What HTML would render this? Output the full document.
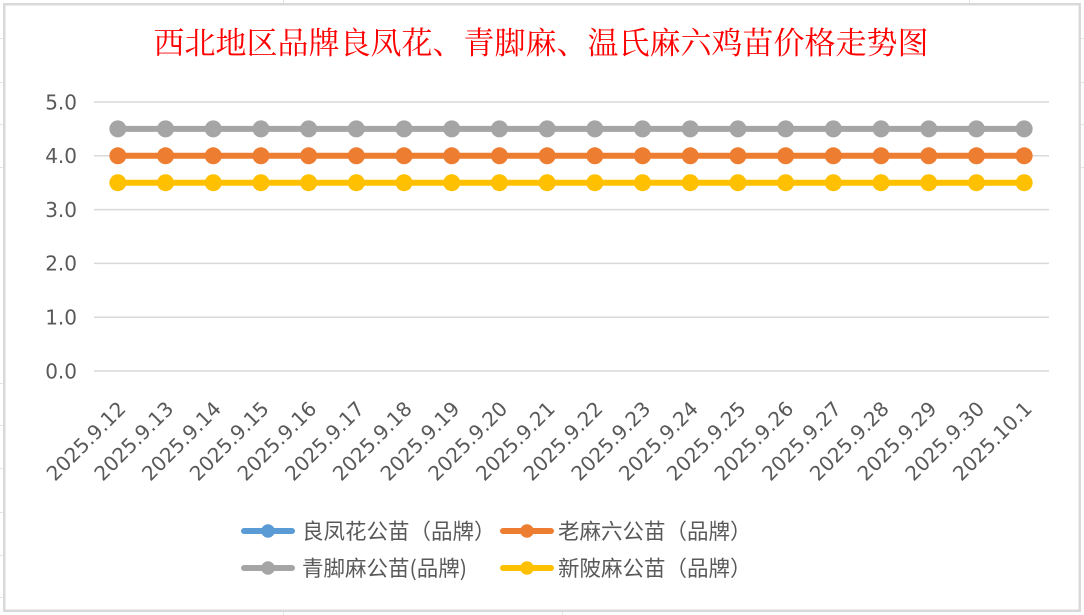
<!DOCTYPE html>
<html><head><meta charset="utf-8"><style>
html,body{margin:0;padding:0;background:#fff;}
svg{display:block;}
</style></head><body>
<svg width="1084" height="615" viewBox="0 0 1084 615" xmlns="http://www.w3.org/2000/svg">
<rect x="0" y="0" width="1084" height="615" fill="#fff"/>
<g stroke="#e3e3e3" stroke-width="1">
<line x1="0" y1="38.5" x2="3" y2="38.5"/><line x1="0" y1="82.5" x2="3" y2="82.5"/><line x1="0" y1="124.5" x2="3" y2="124.5"/><line x1="0" y1="167.5" x2="3" y2="167.5"/>
<line x1="0" y1="383.5" x2="3" y2="383.5"/><line x1="0" y1="425.5" x2="3" y2="425.5"/><line x1="0" y1="468.5" x2="3" y2="468.5"/><line x1="0" y1="512.5" x2="3" y2="512.5"/><line x1="0" y1="555.5" x2="3" y2="555.5"/><line x1="0" y1="597.5" x2="3" y2="597.5"/>
<line x1="1081" y1="38.5" x2="1084" y2="38.5"/><line x1="1081" y1="82.5" x2="1084" y2="82.5"/><line x1="1081" y1="124.5" x2="1084" y2="124.5"/><line x1="1081" y1="167.5" x2="1084" y2="167.5"/>
<line x1="283.5" y1="0" x2="283.5" y2="3"/><line x1="969.5" y1="0" x2="969.5" y2="3"/>
<line x1="283.5" y1="612" x2="283.5" y2="615"/><line x1="562.5" y1="612" x2="562.5" y2="615"/>
</g>
<rect x="4.25" y="4.25" width="1075.5" height="606.5" fill="#fff" stroke="#d9d9d9" stroke-width="2.5"/>
<text x="541" y="54" text-anchor="middle" font-family="'Liberation Serif','Noto Serif CJK SC',serif" font-size="31" fill="#ff0000">西北地区品牌良凤花、青脚麻、温氏麻六鸡苗价格走势图</text>
<g stroke="#d9d9d9" stroke-width="1.5">
<line x1="94" y1="102" x2="1049" y2="102"/>
<line x1="94" y1="155.8" x2="1049" y2="155.8"/>
<line x1="94" y1="209.6" x2="1049" y2="209.6"/>
<line x1="94" y1="263.4" x2="1049" y2="263.4"/>
<line x1="94" y1="317.2" x2="1049" y2="317.2"/>
<line x1="94" y1="371" x2="1049" y2="371"/>
</g>
<g font-family="'DejaVu Sans','Liberation Sans',sans-serif" font-size="20" fill="#595959" text-anchor="end">
<text x="77" y="109.3">5.0</text>
<text x="77" y="163.1">4.0</text>
<text x="77" y="216.9">3.0</text>
<text x="77" y="270.7">2.0</text>
<text x="77" y="324.5">1.0</text>
<text x="77" y="378.3">0.0</text>
</g>
<g id="series">
<line x1="117.85" y1="155.8" x2="1024.15" y2="155.8" stroke="#ed7d31" stroke-width="6"/>
<line x1="117.85" y1="128.9" x2="1024.15" y2="128.9" stroke="#a5a5a5" stroke-width="6"/>
<line x1="117.85" y1="182.7" x2="1024.15" y2="182.7" stroke="#ffc000" stroke-width="6"/>
<g fill="#ed7d31">
<circle cx="117.85" cy="155.8" r="8.5"/><circle cx="165.55" cy="155.8" r="8.5"/><circle cx="213.25" cy="155.8" r="8.5"/><circle cx="260.95" cy="155.8" r="8.5"/><circle cx="308.65" cy="155.8" r="8.5"/><circle cx="356.35" cy="155.8" r="8.5"/><circle cx="404.05" cy="155.8" r="8.5"/><circle cx="451.75" cy="155.8" r="8.5"/><circle cx="499.45" cy="155.8" r="8.5"/><circle cx="547.15" cy="155.8" r="8.5"/><circle cx="594.85" cy="155.8" r="8.5"/><circle cx="642.55" cy="155.8" r="8.5"/><circle cx="690.25" cy="155.8" r="8.5"/><circle cx="737.95" cy="155.8" r="8.5"/><circle cx="785.65" cy="155.8" r="8.5"/><circle cx="833.35" cy="155.8" r="8.5"/><circle cx="881.05" cy="155.8" r="8.5"/><circle cx="928.75" cy="155.8" r="8.5"/><circle cx="976.45" cy="155.8" r="8.5"/><circle cx="1024.15" cy="155.8" r="8.5"/>
</g>
<g fill="#a5a5a5">
<circle cx="117.85" cy="128.9" r="8.5"/><circle cx="165.55" cy="128.9" r="8.5"/><circle cx="213.25" cy="128.9" r="8.5"/><circle cx="260.95" cy="128.9" r="8.5"/><circle cx="308.65" cy="128.9" r="8.5"/><circle cx="356.35" cy="128.9" r="8.5"/><circle cx="404.05" cy="128.9" r="8.5"/><circle cx="451.75" cy="128.9" r="8.5"/><circle cx="499.45" cy="128.9" r="8.5"/><circle cx="547.15" cy="128.9" r="8.5"/><circle cx="594.85" cy="128.9" r="8.5"/><circle cx="642.55" cy="128.9" r="8.5"/><circle cx="690.25" cy="128.9" r="8.5"/><circle cx="737.95" cy="128.9" r="8.5"/><circle cx="785.65" cy="128.9" r="8.5"/><circle cx="833.35" cy="128.9" r="8.5"/><circle cx="881.05" cy="128.9" r="8.5"/><circle cx="928.75" cy="128.9" r="8.5"/><circle cx="976.45" cy="128.9" r="8.5"/><circle cx="1024.15" cy="128.9" r="8.5"/>
</g>
<g fill="#ffc000">
<circle cx="117.85" cy="182.7" r="8.5"/><circle cx="165.55" cy="182.7" r="8.5"/><circle cx="213.25" cy="182.7" r="8.5"/><circle cx="260.95" cy="182.7" r="8.5"/><circle cx="308.65" cy="182.7" r="8.5"/><circle cx="356.35" cy="182.7" r="8.5"/><circle cx="404.05" cy="182.7" r="8.5"/><circle cx="451.75" cy="182.7" r="8.5"/><circle cx="499.45" cy="182.7" r="8.5"/><circle cx="547.15" cy="182.7" r="8.5"/><circle cx="594.85" cy="182.7" r="8.5"/><circle cx="642.55" cy="182.7" r="8.5"/><circle cx="690.25" cy="182.7" r="8.5"/><circle cx="737.95" cy="182.7" r="8.5"/><circle cx="785.65" cy="182.7" r="8.5"/><circle cx="833.35" cy="182.7" r="8.5"/><circle cx="881.05" cy="182.7" r="8.5"/><circle cx="928.75" cy="182.7" r="8.5"/><circle cx="976.45" cy="182.7" r="8.5"/><circle cx="1024.15" cy="182.7" r="8.5"/>
</g>
</g>
<g font-family="'DejaVu Sans','Liberation Sans',sans-serif" font-size="20" fill="#595959" text-anchor="end">
<text transform="translate(127,410) rotate(-45)">2025.9.12</text>
<text transform="translate(174.7,410) rotate(-45)">2025.9.13</text>
<text transform="translate(222.4,410) rotate(-45)">2025.9.14</text>
<text transform="translate(270.1,410) rotate(-45)">2025.9.15</text>
<text transform="translate(317.8,410) rotate(-45)">2025.9.16</text>
<text transform="translate(365.5,410) rotate(-45)">2025.9.17</text>
<text transform="translate(413.2,410) rotate(-45)">2025.9.18</text>
<text transform="translate(460.9,410) rotate(-45)">2025.9.19</text>
<text transform="translate(508.6,410) rotate(-45)">2025.9.20</text>
<text transform="translate(556.3,410) rotate(-45)">2025.9.21</text>
<text transform="translate(604,410) rotate(-45)">2025.9.22</text>
<text transform="translate(651.7,410) rotate(-45)">2025.9.23</text>
<text transform="translate(699.4,410) rotate(-45)">2025.9.24</text>
<text transform="translate(747.1,410) rotate(-45)">2025.9.25</text>
<text transform="translate(794.8,410) rotate(-45)">2025.9.26</text>
<text transform="translate(842.5,410) rotate(-45)">2025.9.27</text>
<text transform="translate(890.2,410) rotate(-45)">2025.9.28</text>
<text transform="translate(937.9,410) rotate(-45)">2025.9.29</text>
<text transform="translate(985.6,410) rotate(-45)">2025.9.30</text>
<text transform="translate(1033.3,410) rotate(-45)">2025.10.1</text>
</g>
<g>
<line x1="244" y1="531" x2="292" y2="531" stroke="#5b9bd5" stroke-width="6" stroke-linecap="round"/>
<circle cx="268" cy="531" r="6.8" fill="#5b9bd5"/>
<line x1="503" y1="531" x2="551" y2="531" stroke="#ed7d31" stroke-width="6" stroke-linecap="round"/>
<circle cx="527" cy="531" r="6.8" fill="#ed7d31"/>
<line x1="244" y1="568" x2="292" y2="568" stroke="#a5a5a5" stroke-width="6" stroke-linecap="round"/>
<circle cx="268" cy="568" r="6.8" fill="#a5a5a5"/>
<line x1="503" y1="568" x2="551" y2="568" stroke="#ffc000" stroke-width="6" stroke-linecap="round"/>
<circle cx="527" cy="568" r="6.8" fill="#ffc000"/>
</g>
<g font-family="'Noto Sans CJK SC',sans-serif" font-size="21.5" fill="#595959">
<text x="302" y="539">良凤花公苗（品牌）</text>
<text x="558" y="539">老麻六公苗（品牌）</text>
<text x="302" y="576">青脚麻公苗(品牌)</text>
<text x="558" y="576">新陂麻公苗（品牌）</text>
</g>
</svg>
</body></html>
